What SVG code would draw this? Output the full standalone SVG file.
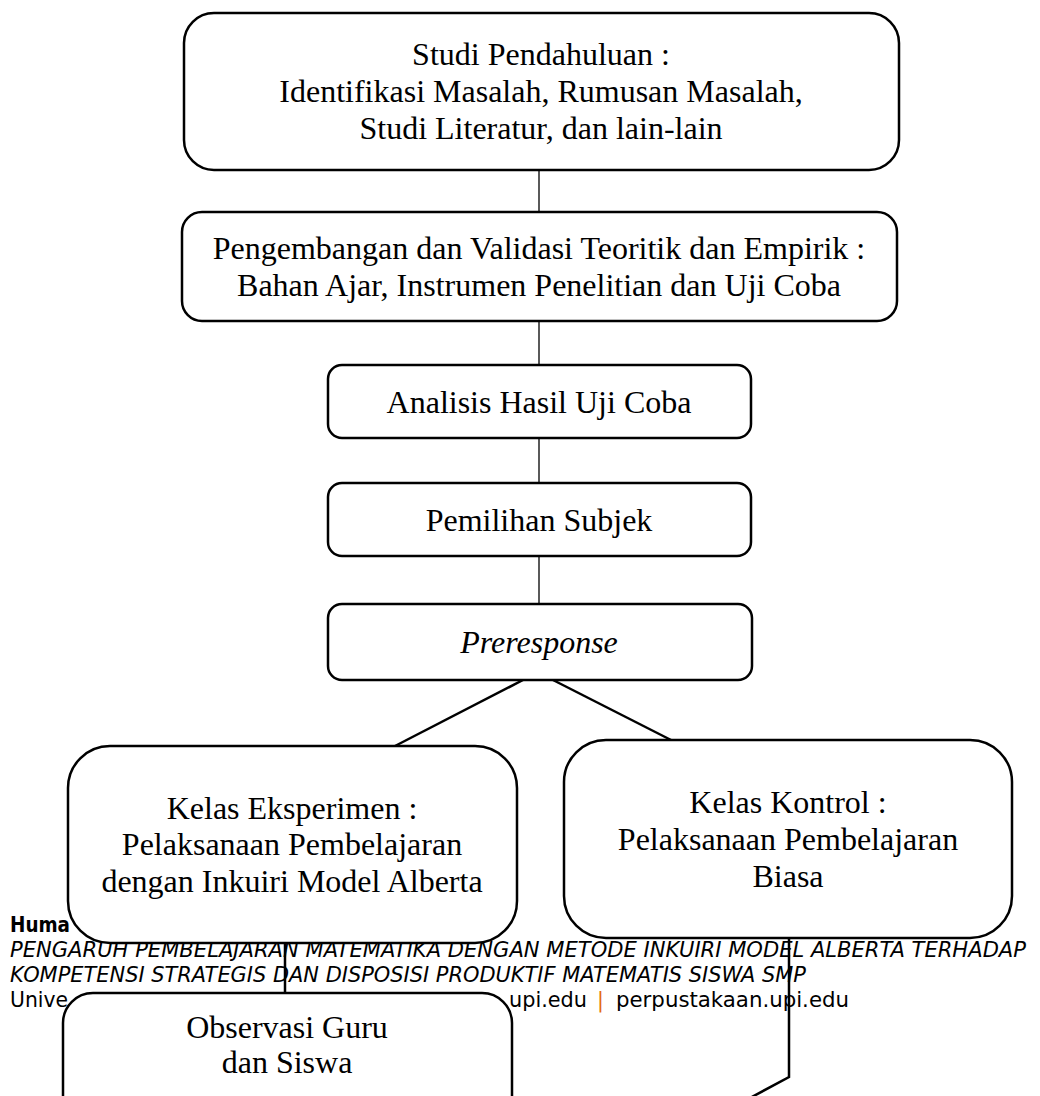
<svg xmlns="http://www.w3.org/2000/svg" width="1040" height="1096" viewBox="0 0 1040 1096">
<style>
.box{fill:#fff;stroke:#000;stroke-width:2.5}
.lbl{font-family:"Liberation Serif","Times New Roman",serif;font-size:32px;fill:#000;text-anchor:middle}
.thin{stroke:#000;stroke-width:1.3;fill:none}
.thick{stroke:#000;stroke-width:2.5;fill:none}
.foot{font-family:"DejaVu Sans","Liberation Sans",sans-serif;font-size:20.5px;fill:#000}
</style>
<rect width="1040" height="1096" fill="#fff"/>
<g id="footer">
<text class="foot" x="10" y="932" font-weight="bold" textLength="60" lengthAdjust="spacingAndGlyphs">Huma</text>
<text class="foot" x="10" y="957" font-style="italic" textLength="1016" lengthAdjust="spacingAndGlyphs">PENGARUH PEMBELAJARAN MATEMATIKA DENGAN METODE INKUIRI MODEL ALBERTA TERHADAP</text>
<text class="foot" x="10" y="982" font-style="italic" textLength="796" lengthAdjust="spacingAndGlyphs">KOMPETENSI STRATEGIS DAN DISPOSISI PRODUKTIF MATEMATIS SISWA SMP</text>
<text class="foot" x="10" y="1007" textLength="58" lengthAdjust="spacingAndGlyphs">Unive</text>
<text class="foot" x="509" y="1007" textLength="78" lengthAdjust="spacingAndGlyphs">upi.edu</text>
<text class="foot" x="597" y="1007" style="fill:#E46C0A">|</text>
<text class="foot" x="616" y="1007" textLength="233" lengthAdjust="spacingAndGlyphs">perpustakaan.upi.edu</text>
</g>
<g id="connectors">
<line class="thin" x1="539" y1="170" x2="539" y2="212"/>
<line class="thin" x1="539" y1="321" x2="539" y2="365"/>
<line class="thin" x1="539" y1="438" x2="539" y2="483"/>
<line class="thin" x1="539" y1="556" x2="539" y2="604"/>
<line class="thick" x1="523" y1="680" x2="395" y2="746"/>
<line class="thick" x1="553" y1="680" x2="671" y2="740"/>
<line class="thick" x1="285" y1="943" x2="285" y2="993"/>
<polyline class="thick" points="789,938 789,1077 750,1098"/>
</g>
<g id="n1">
<rect class="box" x="184" y="13" width="715" height="157" rx="30"/>
<text class="lbl" x="541" y="65">Studi Pendahuluan :</text>
<text class="lbl" x="541" y="102">Identifikasi Masalah, Rumusan Masalah,</text>
<text class="lbl" x="541" y="139">Studi Literatur, dan lain-lain</text>
</g>
<g id="n2">
<rect class="box" x="182" y="212" width="715" height="109" rx="20"/>
<text class="lbl" x="539" y="259">Pengembangan dan Validasi Teoritik dan Empirik :</text>
<text class="lbl" x="539" y="296">Bahan Ajar, Instrumen Penelitian dan Uji Coba</text>
</g>
<g id="n3">
<rect class="box" x="328" y="365" width="423" height="73" rx="14"/>
<text class="lbl" x="539" y="413">Analisis Hasil Uji Coba</text>
</g>
<g id="n4">
<rect class="box" x="328" y="483" width="423" height="73" rx="14"/>
<text class="lbl" x="539" y="531">Pemilihan Subjek</text>
</g>
<g id="n5">
<rect class="box" x="328" y="604" width="424" height="76" rx="14"/>
<text class="lbl" x="539" y="653" font-style="italic">Preresponse</text>
</g>
<g id="n6">
<rect class="box" x="68" y="746" width="449" height="197" rx="42"/>
<text class="lbl" x="292" y="819">Kelas Eksperimen :</text>
<text class="lbl" x="292" y="855">Pelaksanaan Pembelajaran</text>
<text class="lbl" x="292" y="892">dengan Inkuiri Model Alberta</text>
</g>
<g id="n7">
<rect class="box" x="564" y="740" width="448" height="198" rx="42"/>
<text class="lbl" x="788" y="813">Kelas Kontrol :</text>
<text class="lbl" x="788" y="850">Pelaksanaan Pembelajaran</text>
<text class="lbl" x="788" y="887">Biasa</text>
</g>
<g id="n8">
<rect class="box" x="63" y="993" width="449" height="140" rx="30"/>
<text class="lbl" x="287" y="1038">Observasi Guru</text>
<text class="lbl" x="287" y="1073">dan Siswa</text>
</g>
</svg>
